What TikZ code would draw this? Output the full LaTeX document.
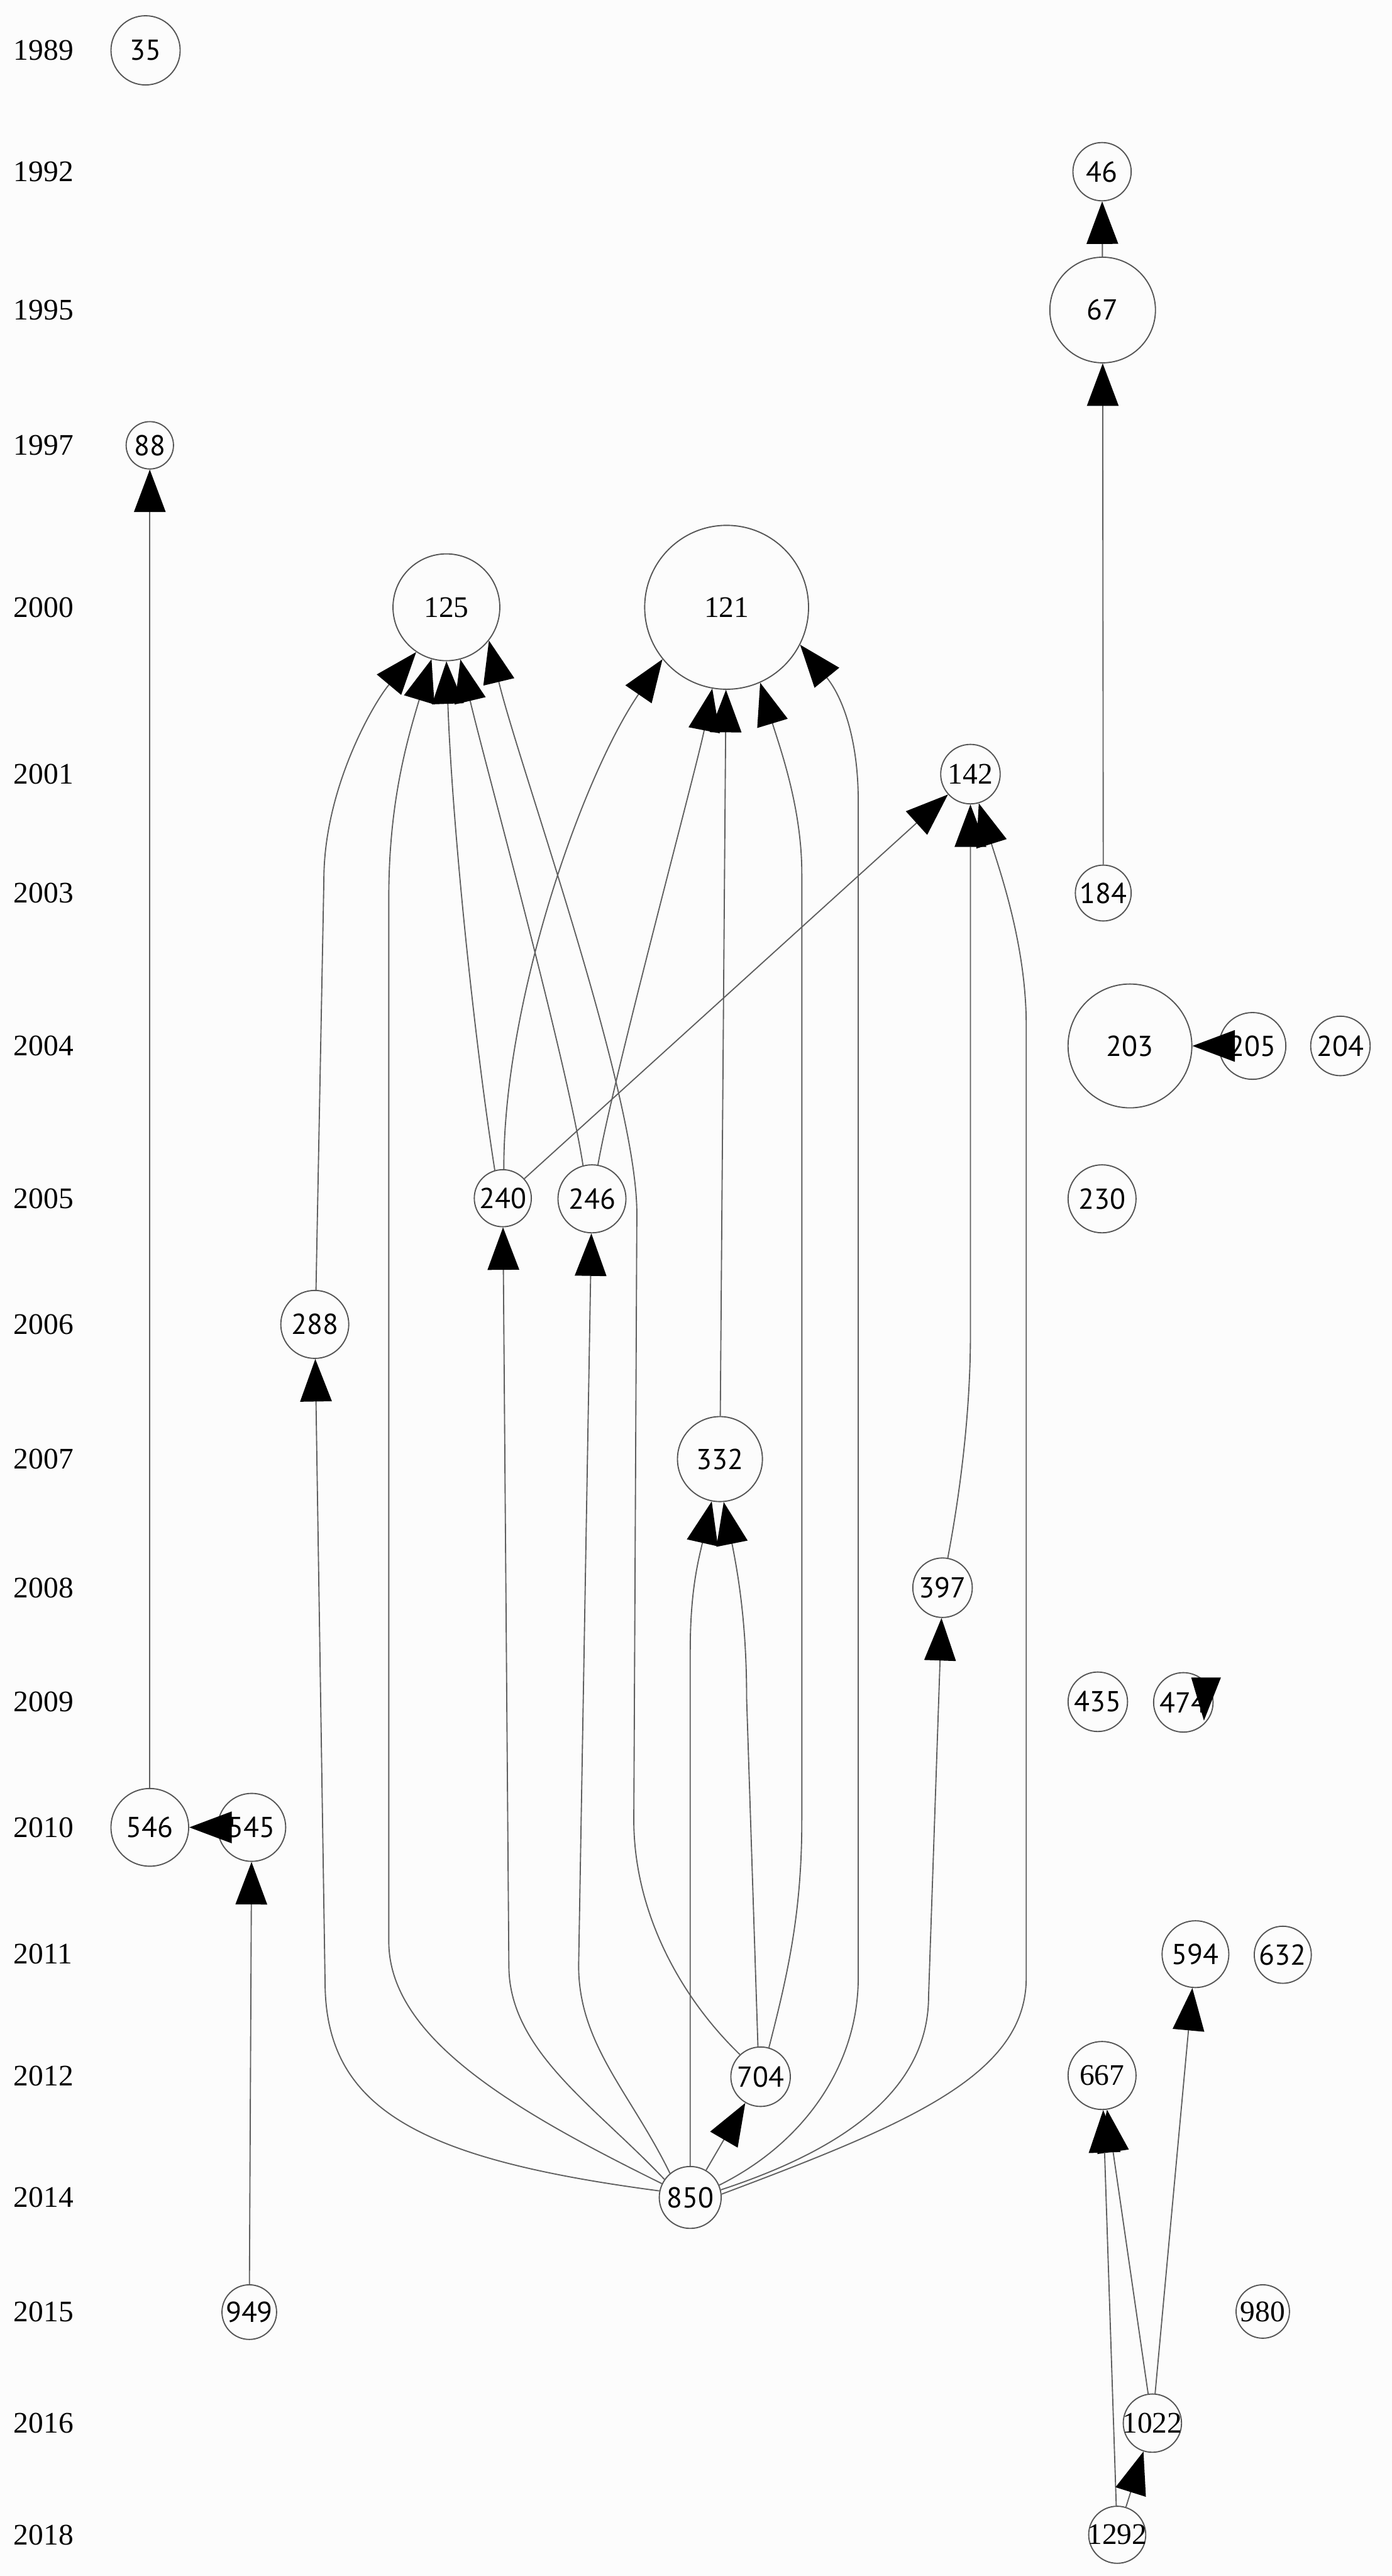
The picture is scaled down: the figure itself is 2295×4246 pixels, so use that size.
\documentclass[tikz,border=0pt]{standalone}
\usepackage{fontspec}
\setmainfont{Liberation Serif}
\newfontfamily\nsans{PT Sans}
\usetikzlibrary{arrows.meta}
\definecolor{bgc}{RGB}{252,252,252}
\definecolor{edgec}{RGB}{95,95,95}
\definecolor{nodec}{RGB}{85,85,85}
\tikzset{
  nds/.style={circle, draw=nodec, line width=0.55pt, inner sep=0pt, minimum size=#1, font=\nsans\fontsize{13.5}{16}\selectfont},
  ndr/.style={circle, draw=nodec, line width=0.55pt, inner sep=0pt, minimum size=#1, font=\fontsize{14}{16}\selectfont},
  yr/.style={anchor=west, inner sep=0pt, font=\fontsize{14}{16}\selectfont},
  edge/.style={draw=edgec, line width=0.55pt, -{Triangle[length=0.7cm,width=0.52cm,color=black]}}
}
\newcommand{\lbl}[1]{\makebox[0pt]{#1}}
\begin{document}
\begin{tikzpicture}[x=0.01cm,y=-0.01cm]
\fill[bgc] (0,0) rectangle (2295,4246);
\useasboundingbox (0,0) rectangle (2295,4246);
% year labels
\node[yr] (y1989) at (22,83) {1989};
\node[yr] (y1992) at (22,283) {1992};
\node[yr] (y1995) at (22,511) {1995};
\node[yr] (y1997) at (22,734) {1997};
\node[yr] (y2000) at (22,1001) {2000};
\node[yr] (y2001) at (22,1276) {2001};
\node[yr] (y2003) at (22,1472) {2003};
\node[yr] (y2004) at (22,1724) {2004};
\node[yr] (y2005) at (22,1976) {2005};
\node[yr] (y2006) at (22,2183) {2006};
\node[yr] (y2007) at (22,2405) {2007};
\node[yr] (y2008) at (22,2617) {2008};
\node[yr] (y2009) at (22,2805) {2009};
\node[yr] (y2010) at (22,3012) {2010};
\node[yr] (y2011) at (22,3221) {2011};
\node[yr] (y2012) at (22,3422) {2012};
\node[yr] (y2014) at (22,3622) {2014};
\node[yr] (y2015) at (22,3810) {2015};
\node[yr] (y2016) at (22,3994) {2016};
\node[yr] (y2018) at (22,4178) {2018};
% nodes
\node[nds=1.14cm] (n35) at (240,83) {\lbl{35}};
\node[nds=0.96cm] (n46) at (1817,283) {\lbl{46}};
\node[nds=1.74cm] (n67) at (1818,511) {\lbl{67}};
\node[nds=0.78cm] (n88) at (247,734) {\lbl{88}};
\node[ndr=1.76cm] (n125) at (736,1001) {\lbl{125}};
\node[ndr=2.70cm] (n121) at (1198,1001) {\lbl{121}};
\node[ndr=0.98cm] (n142) at (1600,1276) {\lbl{142}};
\node[nds=0.92cm] (n184) at (1819,1472) {\lbl{184}};
\node[nds=2.04cm] (n203) at (1863,1724) {\lbl{203}};
\node[nds=1.10cm] (n205) at (2065,1724) {\lbl{205}};
\node[nds=0.98cm] (n204) at (2210,1724) {\lbl{204}};
\node[nds=1.12cm] (n230) at (1817,1976) {\lbl{230}};
\node[nds=0.94cm] (n240) at (829,1975) {\lbl{240}};
\node[nds=1.12cm] (n246) at (976,1976) {\lbl{246}};
\node[nds=1.12cm] (n288) at (519,2183) {\lbl{288}};
\node[nds=1.40cm] (n332) at (1187,2405) {\lbl{332}};
\node[nds=0.98cm] (n397) at (1554,2617) {\lbl{397}};
\node[nds=0.98cm] (n435) at (1810,2805) {\lbl{435}};
\node[nds=0.98cm] (n474) at (1951,2806) {\lbl{474}};
\node[nds=1.28cm] (n546) at (247,3012) {\lbl{546}};
\node[nds=1.12cm] (n545) at (415,3012) {\lbl{545}};
\node[nds=1.10cm] (n594) at (1971,3221) {\lbl{594}};
\node[nds=0.94cm] (n632) at (2115,3222) {\lbl{632}};
\node[nds=0.98cm] (n704) at (1254,3423) {\lbl{704}};
\node[ndr=1.12cm] (n667) at (1817,3421) {\lbl{667}};
\node[nds=1.02cm] (n850) at (1138,3622) {\lbl{850}};
\node[nds=0.90cm] (n949) at (411,3811) {\lbl{949}};
\node[ndr=0.88cm] (n980) at (2082,3810) {\lbl{980}};
\node[ndr=0.96cm] (n1022) at (1900,3994) {\lbl{1022}};
\node[ndr=0.94cm] (n1292) at (1842,4178) {\lbl{1292}};
% straight edges
\draw[edge] (n67) -- (n46);
\draw[edge] (n184) -- (n67);
\draw[edge] (n546) -- (n88);
\draw[edge] (n545) -- (n546);
\draw[edge] (n949) -- (n545);
\draw[edge] (n205) -- (n203);
\draw[edge] (n1022) -- (n667);
\draw[edge] (n1292) -- (n667);
\draw[edge] (n1022) -- (n594);
\draw[edge] (n1292) -- (n1022);
\draw[edge] (n850) -- (n704);
\draw[edge] (n332) -- (n121);
\draw[edge] (n240) -- (n142);
% curved edges
\draw[edge] (n850.168) .. controls (700,3560) and (538,3480) .. (536,3271) -- (n288);
\draw[edge] (n288.88) -- (534,1450) .. controls (534,1300) and (615,1160) .. (n125.-124);
\draw[edge] (n850.154) .. controls (850,3480) and (641,3360) .. (641,3200) -- (641,1480) .. controls (641,1330) and (668,1230) .. (n125.-106);
\draw[edge] (n850.145) .. controls (980,3470) and (839,3380) .. (839,3240) -- (n240);
\draw[edge] (n850.130) .. controls (1040,3450) and (954,3370) .. (954,3240) -- (n246);
\draw[edge] (n850.90) -- (1138,2720) .. controls (1138,2620) and (1152,2570) .. (n332.-101);
\draw[edge] (n704.95) -- (1231,2800) .. controls (1231,2680) and (1218,2600) .. (n332.-85);
\draw[edge] (n704.74) .. controls (1300,3250) and (1322,3150) .. (1322,3000) -- (1322,1440) .. controls (1322,1330) and (1285,1230) .. (n121.-66);
\draw[edge] (n850.23) .. controls (1330,3530) and (1415,3400) .. (1415,3260) -- (1415,1320) .. controls (1415,1220) and (1390,1150) .. (n121.-27);
\draw[edge] (n850.14) .. controls (1400,3540) and (1531,3440) .. (1531,3290) -- (n397);
\draw[edge] (n850.6) .. controls (1500,3500) and (1692,3420) .. (1692,3260) -- (1692,1690) .. controls (1692,1560) and (1650,1440) .. (n142.-74);
\draw[edge] (n397.80) .. controls (1585,2450) and (1600,2320) .. (1600,2200) -- (n142);
\draw[edge] (n240.106) .. controls (780,1700) and (745,1350) .. (n125.-90);
\draw[edge] (n240.88) .. controls (830,1650) and (960,1280) .. (n121.-141);
\draw[edge] (n246.105) .. controls (935,1750) and (800,1260) .. (n125.-75);
\draw[edge] (n246.80) .. controls (1010,1780) and (1150,1260) .. (n121.-100);
\draw[edge] (n704.133) .. controls (1120,3290) and (1045,3150) .. (1045,3000) -- (1050,2000) .. controls (1050,1800) and (855,1260) .. (n125.-38);
% self-loop arrowhead at 474
\fill[black] (1964,2765) -- (2013,2765) -- (1985,2836) -- cycle;
\end{tikzpicture}
\end{document}
